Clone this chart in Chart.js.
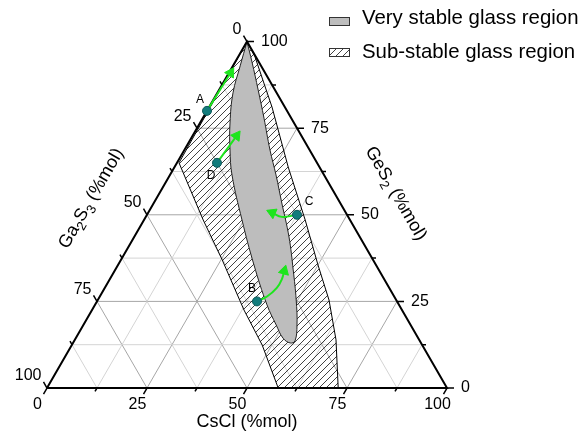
<!DOCTYPE html>
<html>
<head>
<meta charset="utf-8">
<script src="https://cdn.jsdelivr.net/npm/chart.js@4.4.0/dist/chart.umd.min.js"></script>
<style>
  body { margin: 0; background: #fff; }
  canvas { display: block; }
</style>
</head>
<body>
<canvas id="ternary" width="586" height="441"></canvas>
<script>
// compositions are [CsCl, GeS2] in %mol, Ga2S3 = 100 - CsCl - GeS2
var gridLevels = [12.5, 25, 37.5, 50, 62.5, 75, 87.5];
var tickValues = [0, 12.5, 25, 37.5, 50, 62.5, 75, 87.5, 100];
var labelValues = [0, 25, 50, 75, 100];

var veryStable = [
  [0, 100], [1.8, 93], [3.9, 85.2], [7.5, 76.5], [11.4, 68.7], [15.5, 61.5],
  [24.5, 48.5], [34, 35.5], [43, 24], [48.2, 18.2], [51.8, 14.4], [54.3, 13],
  [55.2, 13.6], [53.4, 18.2], [49.6, 25.4], [44.5, 34.1], [38.7, 43.6],
  [32, 53.4], [26.5, 61.5], [21.4, 68.7], [15.3, 77.9], [9.8, 86], [4.2, 94.1], [0, 100]
];
var subStable = [
  [0, 100], [0.5, 65], [14.8, 48.5], [25.3, 37], [38, 22.5], [47.6, 12.4], [57.8, 0],
  [72.8, 0], [65.3, 13.9], [57.8, 25.4], [50, 35.5], [40.3, 48.5], [28.4, 63.8],
  [15.7, 81.1], [4.2, 95.6], [0, 100]
];

var sampleNames = ['A', 'B', 'C', 'D'];
var sampleCsCl = [0, 40, 37.5, 10];
var sampleGeS2 = [80, 25, 50, 65];

var arrowA = [[0, 80], [0.4, 91]];
var arrowB = [[40, 25], [41.8, 26.4], [43, 28.9], [43, 31.5], [42.4, 33.8]];
var arrowC = [[37.5, 50], [34, 49.4], [31, 50.6]];
var arrowD = [[10, 65], [11, 72.8]];

var H = Math.sqrt(3) / 2;
function pt(c, g) { return { x: c + g / 2, y: g * H }; }
function pts(list) { return list.map(function (p) { return pt(p[0], p[1]); }); }

var FONT = '"Liberation Sans", Arial, Helvetica, sans-serif';

// hatch tile
var tile = document.createElement('canvas');
tile.width = 7; tile.height = 7;
(function () {
  var t = tile.getContext('2d');
  t.strokeStyle = '#111';
  t.lineWidth = 0.8;
  t.beginPath();
  t.moveTo(-1, 8); t.lineTo(8, -1);
  t.moveTo(-1, 1); t.lineTo(1, -1);
  t.moveTo(6, 8); t.lineTo(8, 6);
  t.stroke();
})();

var datasets = [];

function addLine(points, color, width, order) {
  datasets.push({
    data: points, showLine: true, borderColor: color, borderWidth: width,
    pointRadius: 0, tension: 0, order: order
  });
}

gridLevels.forEach(function (v) {
  var col = (v % 25 === 0) ? '#a6a6a6' : '#d4d4d4';
  addLine([pt(0, v), pt(100 - v, v)], col, 1, 60);   // GeS2 constant
  addLine([pt(v, 0), pt(v, 100 - v)], col, 1, 60);   // CsCl constant
  addLine([pt(100 - v, 0), pt(0, 100 - v)], col, 1, 60); // Ga2S3 constant
});

datasets.push({
  data: pts(subStable), showLine: true, borderColor: '#000', borderWidth: 1,
  pointRadius: 0, tension: 0, order: 50, polyFill: 'hatch'
});
datasets.push({
  data: pts(veryStable), showLine: true, borderColor: '#222', borderWidth: 1,
  pointRadius: 0, tension: 0.4, order: 40, polyFill: '#bdbdbd'
});

addLine([pt(0, 0), pt(100, 0), pt(0, 100), pt(0, 0)], '#000', 2, 30);

[arrowA, arrowB, arrowC, arrowD].forEach(function (a) {
  datasets.push({
    data: pts(a), showLine: true, borderColor: '#1de51d', borderWidth: 2,
    backgroundColor: '#1de51d', pointBorderColor: '#1de51d', pointBorderWidth: 1,
    tension: 0.4, order: 20, pointStyle: 'triangle',
    pointRadius: function (ctx) { return ctx.dataIndex === ctx.dataset.data.length - 1 ? 6 : 0; },
    rotation: function (ctx) {
      var d = ctx.dataset.data, i = ctx.dataIndex;
      if (i === 0) return 0;
      var xs = ctx.chart.scales.x, ys = ctx.chart.scales.y;
      var dx = xs.getPixelForValue(d[i].x) - xs.getPixelForValue(d[i - 1].x);
      var dy = ys.getPixelForValue(d[i].y) - ys.getPixelForValue(d[i - 1].y);
      return Math.atan2(dx, -dy) * 180 / Math.PI;
    }
  });
});

datasets.push({
  data: sampleNames.map(function (n, i) { return pt(sampleCsCl[i], sampleGeS2[i]); }),
  showLine: false, pointRadius: 4.5, backgroundColor: '#127c7c',
  borderColor: '#0b5858', borderWidth: 1, order: 10
});

function rich(ctx, parts, x, y, angle, size) {
  ctx.save();
  ctx.translate(x, y);
  ctx.rotate(angle);
  var big = size + 'px ' + FONT, small = Math.round(size * 0.72) + 'px ' + FONT;
  var w = 0;
  parts.forEach(function (p) { ctx.font = p[1] ? small : big; w += ctx.measureText(p[0]).width; });
  var cx = -w / 2;
  ctx.textAlign = 'left';
  ctx.textBaseline = 'alphabetic';
  parts.forEach(function (p) {
    ctx.font = p[1] ? small : big;
    ctx.fillText(p[0], cx, p[1] ? size * 0.62 : size * 0.36);
    cx += ctx.measureText(p[0]).width;
  });
  ctx.restore();
}

var ternaryPlugin = {
  id: 'ternary',
  beforeDatasetDraw: function (chart, args) {
    var ds = chart.data.datasets[args.index];
    if (!ds.polyFill) return;
    var ctx = chart.ctx, line = args.meta.dataset;
    line.updateControlPoints(chart.chartArea, 'x');
    ctx.save();
    ctx.beginPath();
    line.path(ctx);
    ctx.closePath();
    ctx.fillStyle = ds.polyFill === 'hatch' ? ctx.createPattern(tile, 'repeat') : ds.polyFill;
    ctx.fill();
    ctx.restore();
  },
  afterDatasetsDraw: function (chart) {
    var ctx = chart.ctx, xs = chart.scales.x, ys = chart.scales.y;
    function px(c, g) { var p = pt(c, g); return [xs.getPixelForValue(p.x), ys.getPixelForValue(p.y)]; }
    ctx.save();
    // ticks
    ctx.strokeStyle = '#000';
    ctx.lineWidth = 1.5;
    tickValues.forEach(function (v) {
      var len = v % 25 === 0 ? 7 : 4;
      var b = px(v, 0), r = px(100 - v, v), l = px(0, 100 - v);
      ctx.beginPath();
      ctx.moveTo(b[0], b[1]); ctx.lineTo(b[0] - 0.5 * len, b[1] + H * len);
      ctx.moveTo(r[0], r[1]); ctx.lineTo(r[0] + len, r[1]);
      ctx.moveTo(l[0], l[1]); ctx.lineTo(l[0] - 0.5 * len, l[1] - H * len);
      ctx.stroke();
    });
    // tick labels
    ctx.fillStyle = '#000';
    ctx.font = '16px ' + FONT;
    ctx.textBaseline = 'middle';
    labelValues.forEach(function (v) {
      var b = px(v, 0), r = px(100 - v, v), l = px(0, 100 - v);
      ctx.textAlign = 'center';
      ctx.fillText(String(v), b[0] - 9.5, b[1] + 17);
      ctx.textAlign = 'left';
      ctx.fillText(String(v), r[0] + 14, r[1]);
      ctx.textAlign = 'right';
      ctx.fillText(String(v), l[0] - 5.5, l[1] - 12);
    });
    // axis titles
    var mb = px(50, 0), mr = px(50, 50), ml = px(0, 50);
    ctx.font = '18px ' + FONT;
    ctx.textAlign = 'center';
    ctx.fillText('CsCl (%mol)', mb[0], mb[1] + 34);
    rich(ctx, [['Ga', 0], ['2', 1], ['S', 0], ['3', 1], [' (%mol)', 0]], ml[0] - 57, ml[1] - 17, -Math.PI / 3, 18);
    rich(ctx, [['GeS', 0], ['2', 1], [' (%mol)', 0]], mr[0] + 50, mr[1] - 22, Math.PI / 3, 18);
    // sample labels
    ctx.font = '12px ' + FONT;
    var offs = [[-7, -11], [-5, -13], [12, -13], [-6, 13]];
    sampleNames.forEach(function (n, i) {
      var p = px(sampleCsCl[i], sampleGeS2[i]);
      ctx.fillText(n, p[0] + offs[i][0], p[1] + offs[i][1]);
    });
    // legend
    ctx.lineWidth = 1;
    ctx.strokeStyle = '#333';
    ctx.fillStyle = '#bdbdbd';
    ctx.fillRect(329.5, 17.5, 20, 8);
    ctx.strokeRect(329.5, 17.5, 20, 8);
    ctx.fillStyle = ctx.createPattern(tile, 'repeat');
    ctx.fillRect(329.5, 48.5, 20, 8);
    ctx.strokeRect(329.5, 48.5, 20, 8);
    ctx.fillStyle = '#000';
    ctx.font = '20.4px ' + FONT;
    ctx.textAlign = 'left';
    ctx.fillText('Very stable glass region', 362, 18.5);
    ctx.fillText('Sub-stable glass region', 362, 52);
    ctx.restore();
  }
};

new Chart(document.getElementById('ternary'), {
  type: 'scatter',
  data: { datasets: datasets },
  options: {
    responsive: false,
    animation: false,
    devicePixelRatio: 1,
    events: [],
    layout: { padding: 0, autoPadding: false },
    scales: {
      x: { type: 'linear', min: -11.75, max: 134.75, display: false },
      y: { type: 'linear', min: -13.25, max: 97, display: false }
    },
    plugins: { legend: { display: false }, tooltip: { enabled: false } }
  },
  plugins: [ternaryPlugin]
});
</script>
</body>
</html>
